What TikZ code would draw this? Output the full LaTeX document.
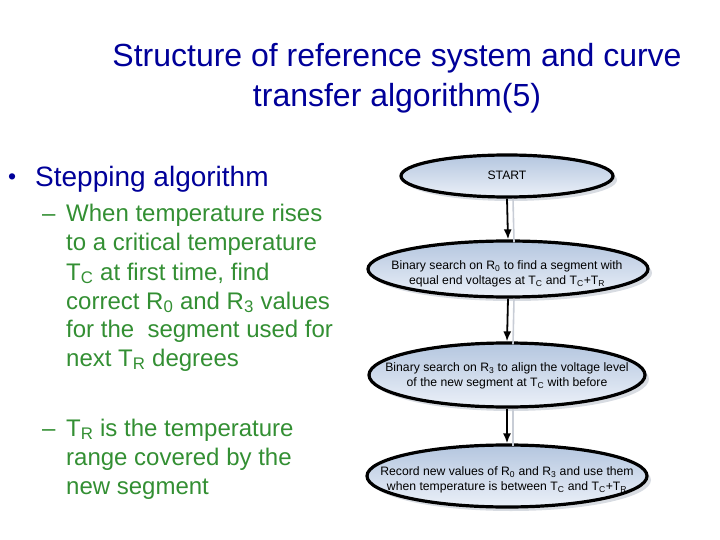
\documentclass[tikz,border=0pt]{standalone}
\usepackage{fontspec}
\setmainfont{Liberation Sans}
\usetikzlibrary{shapes.geometric,shadows,arrows.meta}
\definecolor{titleblue}{RGB}{0,0,153}
\definecolor{txtgreen}{RGB}{51,143,51}
\definecolor{ellTop}{HTML}{B4C6DF}
\definecolor{ellBot}{HTML}{EBF0F8}
\definecolor{shadowgray}{HTML}{C8CDD6}
\newcommand{\sbs}[1]{\textsubscript{#1}}
\begin{document}
\begin{tikzpicture}[x=1pt,y=-1pt,
  titletext/.style={font=\fontsize{32}{40}\selectfont, text=titleblue, align=center, inner sep=0pt},
  lvlone/.style={font=\fontsize{28}{34}\selectfont, text=titleblue, anchor=base west, inner sep=0pt},
  lvltwo/.style={font=\fontsize{24}{29}\selectfont, text=txtgreen, anchor=base west, inner sep=0pt},
  flowell/.style={ellipse, draw=black, line width=3.2pt, top color=ellTop, bottom color=ellBot,
     inner sep=0pt, drop shadow={shadow xshift=4pt, shadow yshift=-4pt, fill=shadowgray, opacity=0.7}},
  flowtext/.style={font=\fontsize{12.2}{15.5}\selectfont, align=center, inner sep=0pt},
  flowarrow/.style={draw=black, line width=1.8pt, -{Latex[length=10pt,width=8pt]}},
  arrowshadow/.style={draw=shadowgray, line width=1.6pt}
]
\useasboundingbox (0,0) rectangle (720,540);

% Title
\node[titletext, anchor=base] (t1) at (397,67) {Structure of reference system and curve};
\node[titletext, anchor=base] (t2) at (397,107) {transfer algorithm(5)};

% Bullets
\node[lvlone, font=\fontsize{23}{28}\selectfont] (bul) at (8,185) {•};
\node[lvlone] (l0) at (35,187) {Stepping algorithm};

\node[lvltwo] (d1) at (42,222) {–};
\node[lvltwo] (a1) at (66,222) {When temperature rises};
\node[lvltwo] (a2) at (66,251) {to a critical temperature};
\node[lvltwo] (a3) at (66,280) {T\sbs{C} at first time, find};
\node[lvltwo] (a4) at (66,309) {correct R\sbs{0} and R\sbs{3} values};
\node[lvltwo] (a5) at (66,337) {for the\ \ segment used for};
\node[lvltwo] (a6) at (66,366) {next T\sbs{R} degrees};

\node[lvltwo] (d2) at (42,436) {–};
\node[lvltwo] (b1) at (66,436) {T\sbs{R} is the temperature};
\node[lvltwo] (b2l) at (66,465) {range covered by the};
\node[lvltwo] (b3l) at (66,494) {new segment};

% Flowchart ellipses
\node[flowell, minimum width=212pt, minimum height=42pt] (s) at (507,176) {};
\node[flowell, minimum width=280pt, minimum height=56pt] (e2) at (508,269) {};
\node[flowell, minimum width=276pt, minimum height=64pt] (e3) at (507,375) {};
\node[flowell, minimum width=280pt, minimum height=62pt] (e4) at (507,476) {};

\node[flowtext] (st) at (507,175) {START};
\node[flowtext] (e2t) at (507,274) {Binary search on R\sbs{0} to find a segment with\\equal end voltages at T\sbs{C} and T\sbs{C}+T\sbs{R}};
\node[flowtext] (e3t) at (507,376) {Binary search on R\sbs{3} to align the voltage level\\of the new segment at T\sbs{C} with before};
\node[flowtext] (e4t) at (507,480) {Record new values of R\sbs{0} and R\sbs{3} and use them\\when temperature is between T\sbs{C} and T\sbs{C}+T\sbs{R}};

% Arrow shadows
\draw[arrowshadow] ([xshift=6pt]s.south) -- ([xshift=6pt,yshift=-3pt]e2.north);
\draw[arrowshadow] ([xshift=6pt]e2.south) -- ([xshift=6pt,yshift=-3pt]e3.north);
\draw[arrowshadow] ([xshift=6pt]e3.south) -- ([xshift=6pt,yshift=-3pt]e4.north);

% Arrows
\draw[flowarrow] (s.south) -- (e2.north);
\draw[flowarrow] (e2.south) -- (e3.north);
\draw[flowarrow] (e3.south) -- (e4.north);
\end{tikzpicture}
\end{document}
